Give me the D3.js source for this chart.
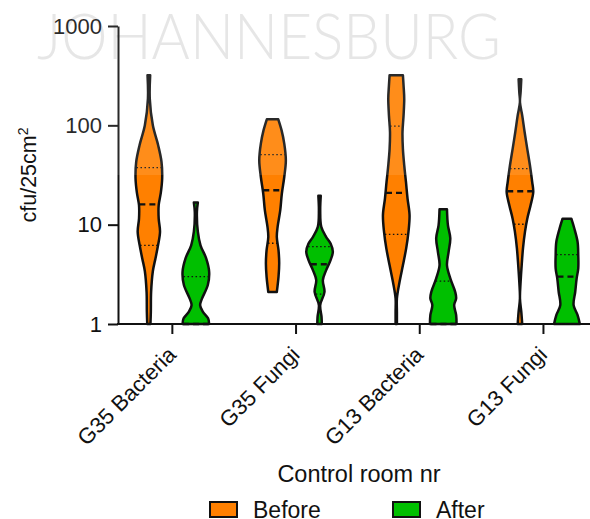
<!DOCTYPE html>
<html>
<head>
<meta charset="utf-8">
<script src="https://cdn.jsdelivr.net/npm/d3@7"></script>
<style>
  body { margin: 0; background: #fff; }
  svg { display: block; }
  text { font-family: "Liberation Sans", Arial, Helvetica, sans-serif; fill: #111; }
</style>
</head>
<body>
<svg id="chart" width="590" height="519"></svg>
<script>
// Categories and series
const groups = ["G35 Bacteria", "G35 Fungi", "G13 Bacteria", "G13 Fungi"];
const seriesNames = ["Before", "After"];
const seriesColors = ["#ff8000", "#00bf00"];
const yTickValues = [1, 10, 100, 1000];

// Violin outlines: [cfu/25cm², relative density (1 = widest point)]
const g35BacteriaBefore = [[320,0.1],[185,0.07],[100,0.3],[63,0.7],[43,0.95],[29,1.0],[21,0.9],[15.7,0.74],[11.5,0.74],[8.5,0.84],[6.2,0.69],[4.6,0.5],[3.4,0.3],[2.1,0.17],[1.33,0.15],[1,0.12]];
const g35BacteriaAfter  = [[16.7,0.15],[13.4,0.08],[8.5,0.15],[6.2,0.35],[4.6,0.77],[3.36,1.0],[2.47,0.9],[1.81,0.47],[1.55,0.32],[1.33,0.52],[1.14,0.92],[1,1.0]];
const g35FungiBefore    = [[115,0.43],[89,0.68],[65.5,0.88],[44.5,1.0],[30.2,0.88],[20.6,0.7],[14,0.58],[9.5,0.38],[7.5,0.32],[5.5,0.45],[4.1,0.5],[3.0,0.45],[2.1,0.32]];
const g35FungiAfter     = [[19.5,0.09],[14,0.05],[9.5,0.13],[7.5,0.5],[6.45,0.83],[5.33,1.0],[4.4,0.83],[3.49,0.5],[2.77,0.25],[2.1,0.37],[1.55,0.05],[1.18,0.15],[1,0.17]];
const g13BacteriaBefore = [[320,0.5],[252,0.55],[185,0.6],[126,0.55],[85.7,0.47],[58,0.5],[39.6,0.6],[26.9,0.73],[18.3,0.85],[12.5,1.0],[8.5,0.92],[5.8,0.75],[3.9,0.5],[2.66,0.25],[1.81,0.05],[1.33,0.05],[1,0.05]];
const g13BacteriaAfter  = [[14.3,0.28],[9.9,0.35],[7.3,0.53],[5.3,0.4],[3.9,0.28],[2.88,0.53],[2.1,0.9],[1.81,0.97],[1.55,0.82],[1.23,0.97],[1,1.0]];
const g13FungiBefore    = [[291,0.1],[216,0.05],[171,0],[126,0.17],[85.7,0.35],[58,0.55],[39.6,0.75],[26.9,0.92],[21.3,1.0],[15.7,0.8],[11.5,0.55],[8.5,0.38],[5.8,0.23],[3.9,0.13],[2.66,0.05],[1.81,0],[1.33,0.1],[1,0.17]];
const g13FungiAfter     = [[11.5,0.33],[9.2,0.55],[6.7,0.8],[4.9,0.85],[3.63,0.85],[2.88,0.73],[2.1,0.62],[1.55,0.5],[1.23,0.8],[1,0.97]];

// Quartiles per group (same order as groups)
const beforeQ1     = [6.2, 6.5, 8.0, 10.1];
const beforeMedian = [16, 22.2, 20.9, 21.7];
const beforeQ3     = [37.6, 50.7, 98, 36.7];
const afterQ1      = [1, 2.0, 1, 1];
const afterMedian  = [1, 4.0, 1, 3.0];
const afterQ3      = [3.0, 6.0, 2.7, 5.0];

const profiles = {
  "G35 Bacteria": [g35BacteriaBefore, g35BacteriaAfter],
  "G35 Fungi":    [g35FungiBefore, g35FungiAfter],
  "G13 Bacteria": [g13BacteriaBefore, g13BacteriaAfter],
  "G13 Fungi":    [g13FungiBefore, g13FungiAfter]
};
const quartiles = [
  { q1: beforeQ1, median: beforeMedian, q3: beforeQ3 },
  { q1: afterQ1,  median: afterMedian,  q3: afterQ3 }
];

const svg = d3.select("#chart");
const axisX = 118, axisBottom = 324;

// Scales
const y = d3.scaleLog().domain([1, 1000]).range([axisBottom, 26]);
const x = d3.scaleBand().domain(groups).range([110.5, 605.3]);
const xSub = d3.scaleBand().domain(seriesNames).range([-47, 47]);
const w = d3.scaleLinear().domain([0, 1]).range([0, 13.3]);

// Watermark
svg.append("text")
  .attr("x", 37).attr("y", 59)
  .attr("textLength", 464).attr("lengthAdjust", "spacingAndGlyphs")
  .style("font-family", "Lato, 'Open Sans', sans-serif")
  .style("font-weight", 300)
  .style("font-size", "64px")
  .style("fill", "#e4e4e4")
  .text("JOHANNESBURG");

// Y axis
const yAxis = svg.append("g")
  .attr("transform", `translate(${axisX},0)`)
  .call(d3.axisLeft(y).tickValues(yTickValues).tickFormat(d3.format("d"))
        .tickSize(10).tickSizeOuter(0).tickPadding(6));
yAxis.selectAll("path, line").attr("stroke", "#111").attr("stroke-width", 2);
yAxis.selectAll("text").style("font-size", "22px").style("font-family", "'Liberation Sans', Arial, sans-serif").attr("fill", "#111");

// X axis
const xAxis = svg.append("g")
  .attr("transform", `translate(0,${axisBottom})`)
  .call(d3.axisBottom(x).tickSize(10).tickSizeOuter(0).tickFormat(""));
xAxis.select(".domain").remove();
xAxis.selectAll("line").attr("stroke", "#111").attr("stroke-width", 2);
xAxis.append("line")
  .attr("x1", axisX - 1).attr("x2", 610)
  .attr("y1", 0).attr("y2", 0)
  .attr("stroke", "#111").attr("stroke-width", 2);

svg.append("g").selectAll("text")
  .data(groups)
  .join("text")
  .attr("transform", d => `translate(${x(d) + x.bandwidth() / 2 + 5},356) rotate(-45)`)
  .attr("text-anchor", "end")
  .style("font-size", "22px")
  .text(d => d);

// Violins
const violinArea = d3.area()
  .curve(d3.curveCatmullRom.alpha(0.5))
  .y(d => y(d[0]))
  .x0(d => -w(d[1]))
  .x1(d => w(d[1]));

function densityAt(profile, v) {
  const lv = Math.log10(v);
  for (let i = 0; i < profile.length - 1; i++) {
    const a = profile[i], b = profile[i + 1];
    if (v <= a[0] && v >= b[0]) {
      const la = Math.log10(a[0]), lb = Math.log10(b[0]);
      const t = la === lb ? 0 : (lv - la) / (lb - la);
      return a[1] + t * (b[1] - a[1]);
    }
  }
  return profile[profile.length - 1][1];
}

groups.forEach((g, gi) => {
  seriesNames.forEach((s, si) => {
    const prof = profiles[g][si];
    const cx = x(g) + x.bandwidth() / 2 + xSub(s) + xSub.bandwidth() / 2;
    const vg = svg.append("g").attr("transform", `translate(${cx},0)`);
    vg.append("path")
      .attr("d", violinArea(prof))
      .attr("fill", seriesColors[si])
      .attr("stroke", "#111")
      .attr("stroke-width", 2.5)
      .attr("stroke-linejoin", "round");

    const q = quartiles[si];
    const lines = [
      { v: q.q3[gi], dash: "1.5,2.5", sw: 1.3 },
      { v: q.median[gi], dash: "6,4", sw: 2.4 },
      { v: q.q1[gi], dash: "1.5,2.5", sw: 1.3 }
    ];
    lines.forEach(l => {
      const hw = Math.max(w(densityAt(prof, l.v)) - 0.5, 1);
      vg.append("line")
        .attr("x1", -hw).attr("x2", hw)
        .attr("y1", y(l.v)).attr("y2", y(l.v))
        .attr("stroke", "#111")
        .attr("stroke-width", l.sw)
        .attr("stroke-dasharray", l.dash);
    });
  });
});

// Light haze band across the top of the chart
svg.append("rect")
  .attr("x", 0).attr("y", 0).attr("width", 590).attr("height", 175)
  .attr("fill", "#fff").attr("opacity", 0.1);

// Y axis title
const yTitle = svg.append("text")
  .attr("transform", "translate(36,175) rotate(-90)")
  .attr("text-anchor", "middle")
  .style("font-size", "21.5px");
yTitle.append("tspan").text("cfu/25cm");
yTitle.append("tspan").attr("dy", "-0.55em").style("font-size", "14px").text("2");

// X axis title
svg.append("text")
  .attr("x", 359).attr("y", 482)
  .attr("text-anchor", "middle")
  .style("font-size", "23.5px")
  .text("Control room nr");

// Legend
const legendX = [210, 393];
const legend = svg.append("g").selectAll("g")
  .data(seriesNames)
  .join("g")
  .attr("transform", (d, i) => `translate(${legendX[i]},502)`);
legend.append("rect")
  .attr("width", 27).attr("height", 15)
  .attr("fill", (d, i) => seriesColors[i])
  .attr("stroke", "#111").attr("stroke-width", 2);
legend.append("text")
  .attr("x", 43).attr("y", 15.5)
  .style("font-size", "23px")
  .text(d => d);
</script>
</body>
</html>
